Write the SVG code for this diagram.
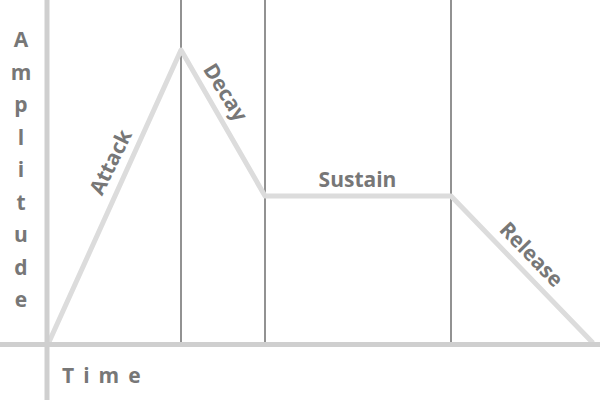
<svg xmlns="http://www.w3.org/2000/svg" width="600" height="400" viewBox="0 0 600 400">
<style>
.axis{stroke:#cfcfcf;stroke-width:5;fill:none}
.div{stroke:#777;stroke-width:1.6;fill:none}
.env{stroke:#dcdcdc;stroke-width:5;fill:none;stroke-linejoin:round}
.t{font-family:"Open Sans","Liberation Sans",sans-serif;font-weight:700;font-size:21px;fill:#777;text-anchor:middle}
.c{dominant-baseline:central}
</style>
<rect width="600" height="400" fill="#fff"/>
<g id="connectors">
<line class="div" x1="181" y1="0" x2="181" y2="342"/>
<line class="div" x1="265" y1="0" x2="265" y2="342"/>
<line class="div" x1="451" y1="0" x2="451" y2="342"/>
<polyline class="env" points="49,342 181,50 265,196 451,196 593,343"/>
<line class="axis" x1="47" y1="0" x2="47" y2="400"/>
<line class="axis" x1="0" y1="344.5" x2="600" y2="344.5"/>
</g>
<g id="amplitude">
<text class="t" x="21" y="47">A</text>
<text class="t" x="21" y="79.5">m</text>
<text class="t" x="21" y="112">p</text>
<text class="t" x="21" y="144.5">l</text>
<text class="t" x="21" y="177">i</text>
<text class="t" x="21" y="209.5">t</text>
<text class="t" x="21" y="242">u</text>
<text class="t" x="21" y="274.5">d</text>
<text class="t" x="21" y="307">e</text>
</g>
<g id="time"><text class="t" x="62" y="383" style="letter-spacing:9px;text-anchor:start">Time</text></g>
<g id="attack"><text class="t c" transform="translate(110,162) rotate(-64)">Attack</text></g>
<g id="decay"><text class="t c" transform="translate(226,92) rotate(58)">Decay</text></g>
<g id="sustain"><text class="t" x="357.5" y="187">Sustain</text></g>
<g id="release"><text class="t c" transform="translate(532,254) rotate(46)">Release</text></g>
</svg>
